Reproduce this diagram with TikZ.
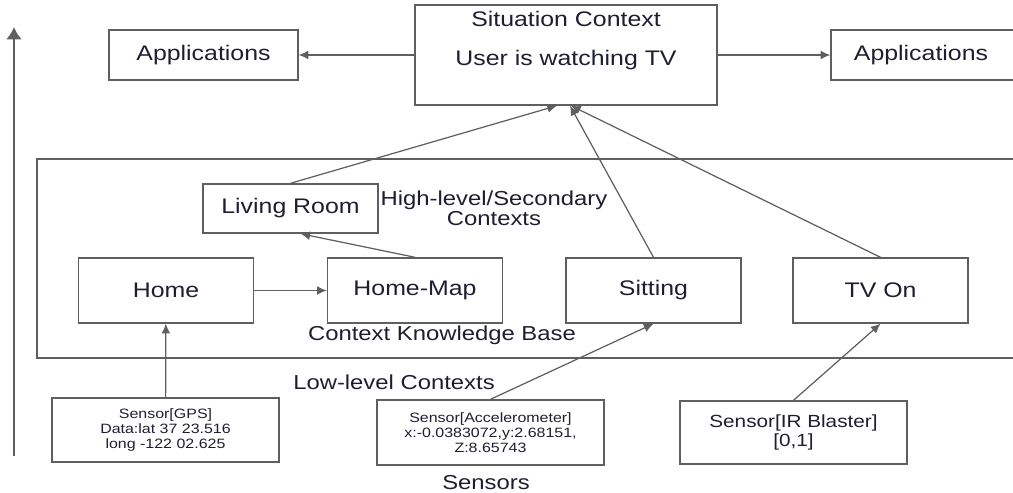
\documentclass[tikz,border=0pt]{standalone}
\usepackage{fontspec}
\setmainfont{Liberation Sans}[FakeStretch=1.18]
\usepackage{xcolor}
\usepackage{tikz}
\usetikzlibrary{arrows.meta}

\definecolor{lineGray}{RGB}{95,95,95}
\definecolor{textDark}{RGB}{30,30,48}

\begin{document}
\begin{tikzpicture}[
        every node/.style={text=textDark},
        box/.style={draw=lineGray, line width=0.8pt, minimum width=3.5cm, minimum height=1.3cm, align=center, font=\fontsize{12}{13}\selectfont},
        sensorbox/.style={box, minimum width=4.54cm, font=\fontsize{7.7}{8.6}\selectfont},
        lbl/.style={align=center, font=\fontsize{11.5}{10.4}\selectfont},
        arrow/.style={-{Latex[length=5.5pt,width=5pt]}, draw=lineGray, line width=0.7pt},
        axis/.style={-{Latex[length=7pt,width=9pt]}, draw=lineGray, line width=1.7pt}
    ]
        \useasboundingbox (0,0) rectangle (20.26,9.84);

        % Top row
        \node[box, minimum width=6.04cm, minimum height=2cm] (situation) at (11.32,8.74) {};
        \node[font=\fontsize{12}{13}\selectfont] (sitTitle) at (11.32,9.46) {Situation Context};
        \node[font=\fontsize{12}{13}\selectfont] (sitText) at (11.32,8.64) {User is watching TV};
        \node[box, minimum width=3.78cm, minimum height=1cm] (appL) at (4.07,8.74) {Applications};
        \node[box, minimum width=3.98cm, minimum height=1cm, label={[xshift=-0.19cm, font=\fontsize{12}{13}\selectfont]center:Applications}] (appR) at (18.61,8.74) {};

        % Context knowledge base
        \node[draw=lineGray, line width=0.8pt, minimum width=19.86cm, minimum height=3.98cm] (kb) at (10.67,4.67) {};
        \node[box, minimum height=0.98cm] (livingRoom) at (5.81,5.67) {Living Room};
        \node[box] (home) at (3.32,4.03) {Home};
        \node[box] (homeMap) at (8.30,4.03) {Home-Map};
        \node[box] (sitting) at (13.07,4.03) {Sitting};
        \node[box] (tvOn) at (17.61,4.03) {TV On};

        % Sensors
        \node[sensorbox, minimum height=1.28cm] (gps) at (3.31,1.24) {Sensor[GPS]\\Data:lat 37 23.516\\long -122 02.625};
        \node[sensorbox] (accel) at (9.81,1.19) {Sensor[Accelerometer]\\x:-0.0383072,y:2.68151,\\Z:8.65743};
        \node[sensorbox, minimum height=1.26cm, font=\fontsize{10}{11}\selectfont] (ir) at (15.87,1.19) {Sensor[IR Blaster]\\{}[0,1]};

        % Labels
        \node[lbl] (highLbl) at (9.88,5.68) {High-level/Secondary\\Contexts};
        \node[lbl] (kbLbl) at (8.84,3.14) {Context Knowledge Base};
        \node[lbl] (lowLbl) at (7.88,2.20) {Low-level Contexts};
        \node[lbl] (sensLbl) at (9.72,0.18) {Sensors};

        % Level axis
        \coordinate (axisBot) at (0.28,0.72);
        \coordinate (axisTop) at (0.28,9.30);
        \draw[axis] (axisBot) -- (axisTop);

        % Arrows to applications
        \draw[arrow] (situation.west) -- (appL.east);
        \draw[arrow] (situation.east) -- (appR.west);

        % Arrows inside the knowledge base
        \draw[arrow] (home) -- (homeMap);
        \draw[arrow] (homeMap.north) -- ([xshift=0.2cm]livingRoom.south);
        \draw[arrow] (livingRoom.north) -- ([xshift=-0.18cm]situation.south);
        \draw[arrow] (sitting.north) -- ([xshift=0.08cm]situation.south);
        \draw[arrow] (tvOn.north) -- ([xshift=0.1cm]situation.south);

        % Arrows from sensors
        \draw[arrow] (gps) -- (home);
        \draw[arrow] (accel.north) -- (sitting.south);
        \draw[arrow] (ir.north) -- (tvOn.south);
    \end{tikzpicture}
\end{document}
